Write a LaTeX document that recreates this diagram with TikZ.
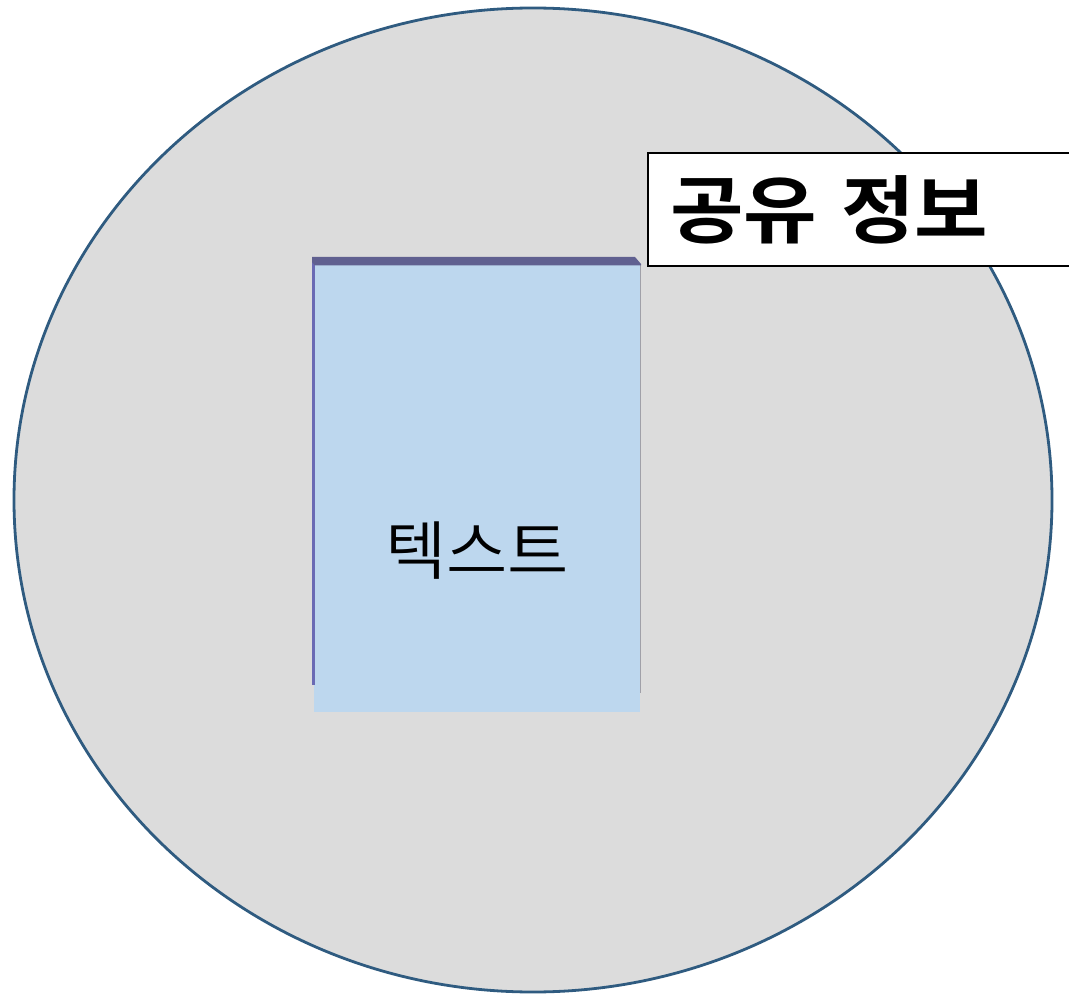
\documentclass[tikz,border=0pt]{standalone}
\usepackage{fontspec}
\usepackage{graphicx}
\newfontfamily\kr{Noto Sans CJK KR DemiLight}
\newfontfamily\krb{Noto Sans CJK KR Bold}
\definecolor{bgc}{HTML}{DCDCDC}
\definecolor{rimc}{HTML}{2F5B80}
\definecolor{boxc}{HTML}{BDD7EE}
\definecolor{topc}{HTML}{606090}
\definecolor{leftc}{HTML}{6A6AB4}
\definecolor{rightc}{HTML}{A0A0A8}
\tikzset{
  rim/.style={draw=rimc, line width=2.8pt, fill=bgc},
  labelbox/.style={draw=black, line width=1.3pt, fill=white},
}
\begin{document}
\begin{tikzpicture}[x=1pt,y=-1pt]
\useasboundingbox (0,0) rectangle (1069,995);
\fill[white] (0,0) rectangle (1069,995);
% big ellipse
\draw[rim] (533,500) ellipse [x radius=519, y radius=492];
% document block
\fill[boxc] (314,264) rectangle (640,712);
\fill[leftc] (312,259) rectangle (315,685);
\fill[rightc] (639.5,265) rectangle (641,693);
\fill[topc] (312,257) -- (635,257) -- (641,264) -- (641,265.5) -- (315,265.5) -- (312,262) -- cycle;
\node[font=\kr\fontsize{64}{70}\selectfont, inner sep=0pt] (txt) at (477,551) {\scalebox{1.04}[1]{텍스트}};
% label
\draw[labelbox] (648,153) rectangle (1075,266);
\node[font=\krb\fontsize{74}{80}\selectfont, inner sep=0pt, anchor=west] (lbl) at (670,210) {\scalebox{1.08}[1]{공유}\hspace{24pt}\scalebox{1.08}[1]{정보}};
\end{tikzpicture}
\end{document}
